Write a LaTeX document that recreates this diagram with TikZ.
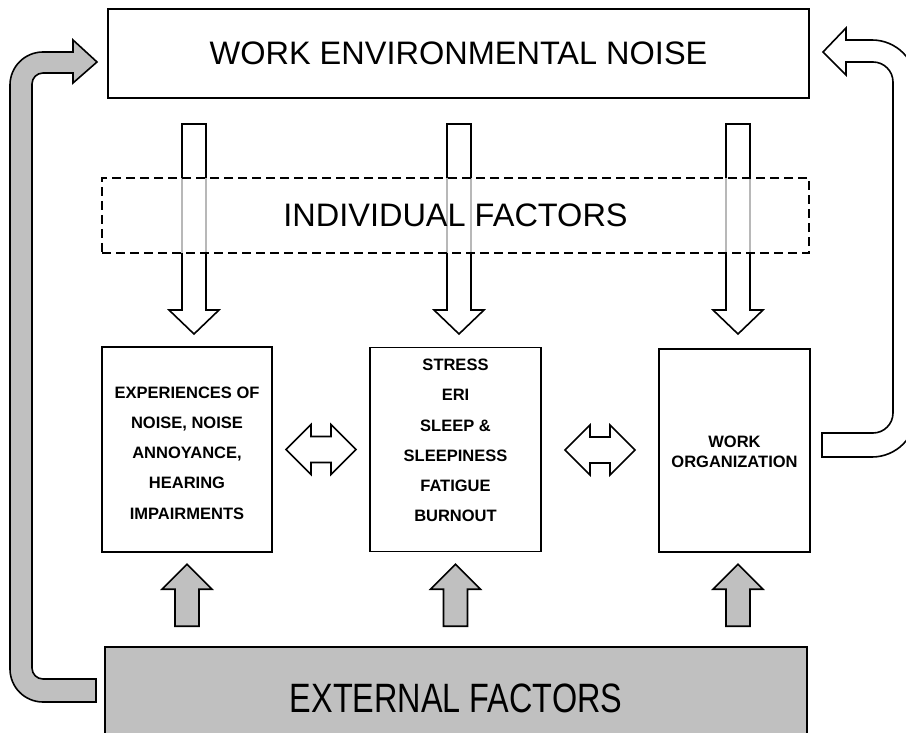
\documentclass[tikz,border=0pt]{standalone}
\usepackage{fontspec}
\setmainfont{Liberation Sans}
\usepackage{graphicx}
\usepackage{tikz}
\usetikzlibrary{positioning,calc}
\definecolor{factorgray}{RGB}{192,192,192}
\tikzset
{
    bigbox/.style    = {rectangle, draw=black, line width=1.6pt, align=center, inner sep=0pt, font=\fontsize{32.5}{38}\selectfont},
    itembox/.style   = {rectangle, draw=black, line width=1.6pt, inner sep=0pt},
    itemtext/.style  = {align=center, inner sep=0pt, font=\bfseries\fontsize{16.5}{30.2}\selectfont},
    blockarrow/.style = {draw=black, line width=1.6pt, line join=miter, fill=#1},
    blockarrow/.default = white,
    pics/downarrow/.style = {code = {\draw[blockarrow] (-12,0) -- (-12,186) -- (-25,186) -- (0,210) -- (25,186) -- (12,186) -- (12,0) -- cycle;}},
    pics/uparrow/.style   = {code = {\draw[blockarrow=factorgray] (-12,0) -- (-12,-37) -- (-25,-37) -- (0,-62) -- (25,-37) -- (12,-37) -- (12,0) -- cycle;}},
    pics/twoway/.style    = {code = {\draw[blockarrow] (-35,0) -- (-10,-25) -- (-10,-13) -- (10,-13) -- (10,-25) -- (35,0) -- (10,25) -- (10,13) -- (-10,13) -- (-10,25) -- cycle;}}
}

\begin{document}
\begin{tikzpicture}[x=1pt, y=-1pt]
    \clip (0,0) rectangle (906,733);
    \node [bigbox, minimum width=701pt, minimum height=89pt] (noise) at (458.5,53.5) {WORK ENVIRONMENTAL NOISE};

    \pic at (194,124) {downarrow};
    \pic at (459,124) {downarrow};
    \pic at (738,124) {downarrow};

    \node [bigbox, dash pattern=on 9pt off 5pt, fill=white, fill opacity=0.72, text opacity=1,
           minimum width=707pt, minimum height=75pt] (indiv) at (455.5,215.5) {INDIVIDUAL FACTORS};

    \node [itembox, minimum width=170pt, minimum height=205pt] (exper) at (187,449.5) {};
    \node [itemtext] (expertext) at (187,453) {EXPERIENCES OF\\NOISE, NOISE\\ANNOYANCE,\\HEARING\\IMPAIRMENTS};
    \node [itembox, minimum width=171pt, minimum height=204pt] (stress) at (455.5,449.5) {};
    \node [itemtext] (stresstext) at (455.5,440.5) {STRESS\\ERI\\SLEEP \&\\SLEEPINESS\\FATIGUE\\BURNOUT};
    \node [itembox, minimum width=151pt, minimum height=203pt] (workorg) at (734.5,450.5) {};
    \node [itemtext, font=\bfseries\fontsize{16.5}{20}\selectfont] (workorgtext) at (734.5,452) {WORK\\ORGANIZATION};

    \pic at ($(exper.east)!0.5!(stress.west)$) {twoway};
    \pic at ($(stress.east)!0.5!(workorg.west)$) {twoway};

    \node [bigbox, fill=factorgray, minimum width=702pt, minimum height=102pt,
           font=\fontsize{41}{45}\selectfont] (extern) at (456,698) {\scalebox{0.79}[1]{EXTERNAL FACTORS}};

    \pic at ($(exper.south |- extern.north)+(0,-20)$) {uparrow};
    \pic at ($(stress.south |- extern.north)+(0,-20)$) {uparrow};
    \pic at ($(workorg.south |- extern.north)+(3.5,-20)$) {uparrow};

    \draw [blockarrow=factorgray] (96,679) -- (43,679) .. controls (36.9,679) and (32,674.1) .. (32,668)
        -- (32,84) .. controls (32,77.9) and (36.9,73) .. (43,73)
        -- (73,73) -- (73,83) -- (97,62) -- (73,40) -- (73,52)
        -- (43,52) .. controls (24.8,52) and (10,66.8) .. (10,85)
        -- (10,669) .. controls (10,687.2) and (24.8,702) .. (43,702) -- (96,702) -- cycle;
    \draw [blockarrow] (822,433) -- (873,433) .. controls (884,433) and (893,424) .. (893,413)
        -- (893,82) .. controls (893,71) and (884,62) .. (873,62)
        -- (846,62) -- (846,75) -- (823,52) -- (846,28) -- (846,40)
        -- (872,40) .. controls (896.3,40) and (916,59.7) .. (916,84)
        -- (916,413) .. controls (916,437.3) and (896.3,457) .. (872,457) -- (822,457) -- cycle;
\end{tikzpicture}
\end{document}
